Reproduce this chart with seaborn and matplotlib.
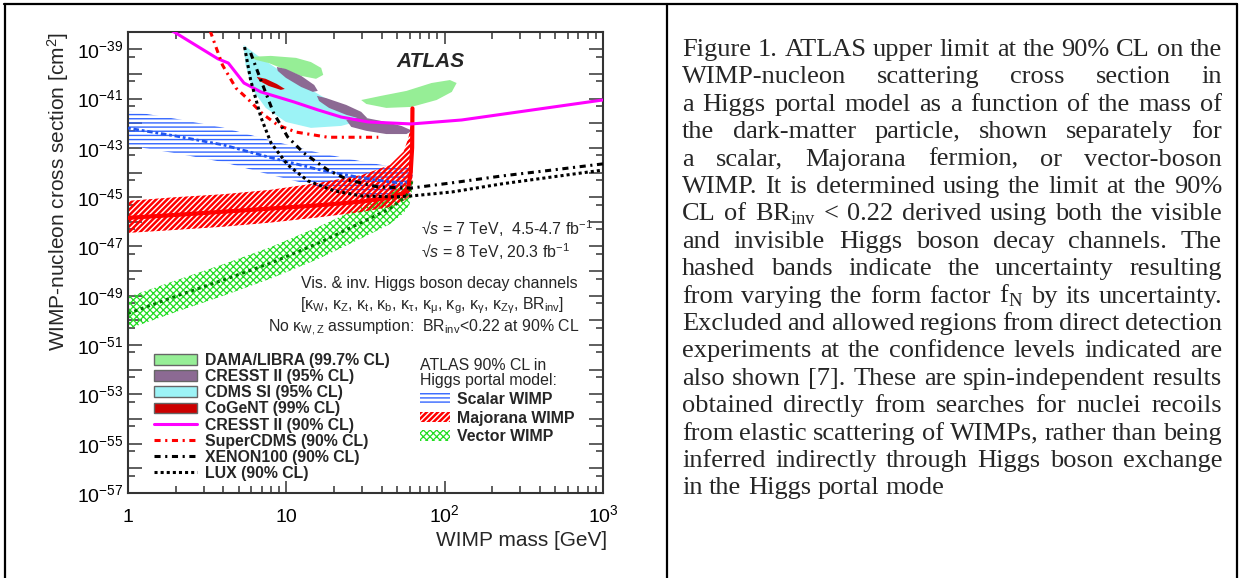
import matplotlib
matplotlib.use("Agg")
import matplotlib.pyplot as plt
import matplotlib.ticker as mticker
from matplotlib.lines import Line2D
from matplotlib.patches import Patch
import numpy as np
import pandas as pd
import seaborn as sns

# ── Direct-detection limits: mass [GeV], log10(sigma / cm^2) ──────────────────
CRESST90_MASS = [1.9, 3.7, 4.3, 5.4, 6.9, 11.2, 15.8, 22.2, 32.9, 61.7, 128, 993]
CRESST90_LOGXS = [-38.25, -39.39, -39.56, -40.37, -40.73, -41.14, -41.46, -41.75,
                  -41.95, -42.03, -41.87, -41.06]

SUPERCDMS_MASS = [3.3, 3.95, 4.8, 5.8, 7.1, 8.8, 11.5, 18.3, 38.1]
SUPERCDMS_LOGXS = [-38.25, -39.64, -40.57, -41.06, -41.63, -42.07, -42.36, -42.57, -42.57]

XENON_MASS = [5.95, 6.9, 8.3, 10.2, 12.9, 18.3, 24.6, 38.1, 61.7, 111, 230, 478, 1000]
XENON_LOGXS = [-39.15, -40.25, -41.58, -42.56, -43.21, -43.90, -44.30, -44.59, -44.63,
               -44.42, -44.14, -43.90, -43.65]

LUX_MASS = [5.45, 5.95, 6.9, 8.0, 10.2, 13.7, 20.0, 29.7, 48.2, 61.7, 111, 230, 478, 1000]
LUX_LOGXS = [-38.91, -40.25, -41.75, -42.80, -43.69, -44.34, -44.74, -44.95, -44.99,
             -44.95, -44.79, -44.46, -44.18, -43.90]

# ── Allowed / excluded regions (closed contours) ──────────────────────────────
CDMS_MASS = [5.37, 6.89, 10.7, 16.6, 23.9, 30.6, 22.2, 14.3, 9.93, 7.41, 6.13, 5.53]
CDMS_LOGXS = [-38.83, -39.35, -40.16, -40.89, -41.46, -41.87, -42.11, -42.19, -41.95,
              -41.38, -40.65, -39.64]

DAMA1_MASS = [5.95, 7.97, 11.5, 14.3, 16.6, 17.1, 15.4, 12.4, 9.93, 7.74, 6.40]
DAMA1_LOGXS = [-39.31, -39.27, -39.35, -39.52, -39.76, -40.04, -40.20, -40.08, -39.84,
               -39.56, -39.43]
DAMA2_MASS = [29.7, 39.8, 57.4, 82.6, 108, 119, 111, 88.9, 61.7, 42.8, 32.0]
DAMA2_LOGXS = [-41.06, -40.89, -40.69, -40.37, -40.25, -40.37, -40.73, -41.06, -41.34,
               -41.38, -41.22]

CRESST95A_MASS = [8.71, 9.93, 12.4, 15.0, 15.8, 14.7, 12.4, 9.93, 8.83]
CRESST95A_LOGXS = [-39.72, -39.80, -40.08, -40.45, -40.69, -40.73, -40.53, -40.16, -39.88]
CRESST95B_MASS = [15.6, 17.8, 23.9, 29.7, 32.4, 29.7, 23.9, 18.6, 16.1]
CRESST95B_LOGXS = [-40.89, -40.98, -41.26, -41.54, -41.79, -41.83, -41.66, -41.38, -41.10]
CRESST95C_MASS = [23.9, 29.7, 39.8, 53.3, 62.6, 57.4, 42.8, 32.0, 25.7]
CRESST95C_LOGXS = [-41.87, -41.75, -41.91, -42.11, -42.31, -42.44, -42.44, -42.31, -42.15]

COGENT_MASS = [6.50, 7.41, 8.71, 9.78, 9.23, 7.74, 6.79]
COGENT_LOGXS = [-40.12, -40.20, -40.41, -40.61, -40.65, -40.49, -40.29]

# ── ATLAS Higgs-portal limits with f_N uncertainty band ───────────────────────
SCALAR_MASS = [1, 2, 4, 8, 16, 30, 45, 55, 60, 62]
SCALAR_LOGXS = [-42.20, -42.52, -42.88, -43.40, -43.88, -44.22, -44.38, -44.44, -44.35, -44.0]
SCALAR_UP = [-41.5, -41.82, -42.18, -42.7, -43.2, -43.55, -43.75, -43.85, -43.75, -43.4]
SCALAR_DN = [-42.9, -43.22, -43.58, -44.1, -44.58, -44.9, -45.0, -45.0, -44.9, -44.6]

MAJORANA_MASS = [1, 2, 4, 8, 16, 30, 45, 55, 59, 61, 62.3, 62.6]
MAJORANA_LOGXS = [-45.84, -45.72, -45.59, -45.46, -45.33, -45.18, -45.01, -44.85, -44.55,
                  -44.0, -43.0, -41.4]
MAJORANA_UP = [-45.15, -45.0, -44.88, -44.7, -44.42, -44.1, -43.7, -43.15, -42.6, -42.1,
               -41.6, -41.38]
MAJORANA_DN = [-46.45, -46.33, -46.2, -46.03, -45.82, -45.6, -45.4, -45.15, -45.0, -44.85,
               -44.6, -44.4]

VECTOR_MASS = [1, 2, 4, 8, 16, 30, 45, 55, 60, 62]
VECTOR_LOGXS = [-49.72, -49.02, -48.36, -47.67, -46.86, -46.02, -45.47, -45.05, -44.75, -44.35]
VECTOR_UP = [-49.05, -48.38, -47.72, -47.02, -46.2, -45.38, -44.85, -44.5, -44.25, -44.05]
VECTOR_DN = [-50.35, -49.66, -49.0, -48.3, -47.5, -46.66, -46.1, -45.65, -45.3, -44.8]

X_TICKS = [1, 10, 100, 1000]
X_TICK_LABELS = ["1", "10", r"$\mathdefault{10^{2}}$", r"$\mathdefault{10^{3}}$"]
Y_DECADES = list(range(-57, -38))

CAPTION_LINES = [
    "Figure 1. ATLAS upper limit at the 90% CL on the",
    "WIMP-nucleon scattering cross section in",
    "a Higgs portal model as a function of the mass of",
    "the dark-matter particle, shown separately for",
    "a scalar, Majorana fermion, or vector-boson",
    "WIMP. It is determined using the limit at the 90%",
    r"CL of BR$_{\mathdefault{inv}}$ < 0.22 derived using both the visible",
    "and invisible Higgs boson decay channels. The",
    "hashed bands indicate the uncertainty resulting",
    r"from varying the form factor f$_{\mathdefault{N}}$ by its uncertainty.",
    "Excluded and allowed regions from direct detection",
    "experiments at the confidence levels indicated are",
    "also shown [7]. These are spin-independent results",
    "obtained directly from searches for nuclei recoils",
    "from elastic scattering of WIMPs, rather than being",
    "inferred indirectly through Higgs boson exchange",
    "in the Higgs portal mode",
]

# ── Style ─────────────────────────────────────────────────────────────────────
sns.set_theme(style="ticks")
plt.rcParams["font.family"] = ["Liberation Sans", "DejaVu Sans"]
plt.rcParams["mathtext.fontset"] = "custom"
plt.rcParams["mathtext.rm"] = "Liberation Sans"
plt.rcParams["mathtext.it"] = "Liberation Sans:italic"
plt.rcParams["mathtext.bf"] = "Liberation Sans:bold"
plt.rcParams["hatch.linewidth"] = 1.2

W, H = 1240, 578
AX_COLOR = "#333333"
DAMA_C, CRESST_C, CDMS_C, COGENT_C = "#96ee96", "#8c6a93", "#9cf3f6", "#cc0000"
SCALAR_C, MAJ_C, VEC_C = "#3366ff", "#ff0000", "#22dd22"
HATCH_LW = {"----": 1.0, "//////": 1.8, "xxxxx": 0.9}

fig = plt.figure(figsize=(W / 100, H / 100), dpi=100)
ax = fig.add_axes([128 / W, 85 / H, 475 / W, 461 / H])
ax.set_xscale("log")
ax.set_yscale("log")


def curve(mass, logxs, **kw):
    df = pd.DataFrame({"mass": mass, "xs": 10.0 ** np.asarray(logxs)})
    sns.lineplot(data=df, x="mass", y="xs", sort=False, estimator=None,
                 legend=False, ax=ax, **kw)


def region(mass, logxs, color, z=1):
    ax.fill(mass, 10.0 ** np.asarray(logxs), facecolor=color, edgecolor="none", zorder=z)


def set_hatch_lw(artist, hatch):
    if hasattr(artist, "set_hatch_linewidth"):
        artist.set_hatch_linewidth(HATCH_LW[hatch])


def band(mass, lo, hi, color, hatch, z):
    with plt.rc_context({"hatch.linewidth": HATCH_LW[hatch]}):
        coll = ax.fill_between(mass, 10.0 ** np.asarray(lo), 10.0 ** np.asarray(hi),
                               facecolor="none", edgecolor=color, hatch=hatch,
                               linewidth=0, zorder=z)
    set_hatch_lw(coll, hatch)


# regions
region(CDMS_MASS, CDMS_LOGXS, CDMS_C, 1)
region(DAMA1_MASS, DAMA1_LOGXS, DAMA_C, 1.1)
region(DAMA2_MASS, DAMA2_LOGXS, DAMA_C, 1.1)
region(CRESST95A_MASS, CRESST95A_LOGXS, CRESST_C, 1.2)
region(CRESST95B_MASS, CRESST95B_LOGXS, CRESST_C, 1.2)
region(CRESST95C_MASS, CRESST95C_LOGXS, CRESST_C, 1.2)
region(COGENT_MASS, COGENT_LOGXS, COGENT_C, 1.3)

# ATLAS bands
band(SCALAR_MASS, SCALAR_DN, SCALAR_UP, SCALAR_C, "----", 2)
band(VECTOR_MASS, VECTOR_DN, VECTOR_UP, VEC_C, "xxxxx", 2.1)
band(MAJORANA_MASS, MAJORANA_DN, MAJORANA_UP, MAJ_C, "//////", 2.2)
curve(SCALAR_MASS, SCALAR_LOGXS, color="#2255ee", linewidth=2, linestyle=(0, (1, 1, 2, 1)), zorder=3)
curve(VECTOR_MASS, VECTOR_LOGXS, color="#007700", linewidth=2.2, linestyle=(0, (1, 1.2)), zorder=3)
curve(MAJORANA_MASS, MAJORANA_LOGXS, color=MAJ_C, linewidth=3, zorder=3.1)

# limit curves
curve(CRESST90_MASS, CRESST90_LOGXS, color="#ff00ff", linewidth=2.2, zorder=4)
curve(SUPERCDMS_MASS, SUPERCDMS_LOGXS, color="#ff0000", linewidth=2.2,
      linestyle=(0, (2, 1.5, 0.7, 1.5)), zorder=4)
curve(XENON_MASS, XENON_LOGXS, color="black", linewidth=2.2,
      linestyle=(0, (2, 1.5, 0.7, 1.5)), zorder=4)
curve(LUX_MASS, LUX_LOGXS, color="black", linewidth=2.2, linestyle=(0, (1, 1)), zorder=4)

# ── Axes ──────────────────────────────────────────────────────────────────────
ax.set_xlim(1, 1000)
ax.set_ylim(1e-57, 5e-39)
ax.xaxis.set_major_locator(mticker.FixedLocator(X_TICKS))
ax.xaxis.set_major_formatter(mticker.FixedFormatter(X_TICK_LABELS))
ax.xaxis.set_minor_locator(mticker.LogLocator(base=10, subs=np.arange(2, 10), numticks=20))
ax.xaxis.set_minor_formatter(mticker.NullFormatter())
ax.yaxis.set_major_locator(mticker.FixedLocator([10.0 ** e for e in Y_DECADES]))
ax.yaxis.set_major_formatter(mticker.FuncFormatter(
    lambda v, p: rf"$\mathdefault{{10^{{{int(round(np.log10(v)))}}}}}$"
    if int(round(np.log10(v))) % 2 else ""))
ax.yaxis.set_minor_locator(mticker.FixedLocator([5 * 10.0 ** e for e in Y_DECADES[:-1]]))
ax.yaxis.set_minor_formatter(mticker.NullFormatter())

ax.tick_params(which="both", direction="in", top=True, right=True, color=AX_COLOR,
               labelcolor="black", width=1.1)
ax.tick_params(axis="y", which="major", length=10, pad=3.5, labelsize=14)
ax.tick_params(axis="y", which="minor", length=5)
ax.tick_params(axis="x", which="major", length=8.5, pad=21, labelsize=14)
ax.tick_params(axis="x", which="minor", length=4.8)
plt.setp(ax.get_xticklabels(), va="baseline")
for sp in ax.spines.values():
    sp.set_color(AX_COLOR)
    sp.set_linewidth(1.5)

ax.set_ylabel(r"WIMP-nucleon cross section [cm$^{\mathdefault{2}}$]", fontsize=15, loc="top")
ax.yaxis.set_label_coords(-0.12, 1.0)
ax.set_xlabel("WIMP mass [GeV]", fontsize=15, loc="right")
ax.xaxis.set_label_coords(1.008, -0.082)

# ── Annotations ───────────────────────────────────────────────────────────────
ax.text(0.566, 0.935, "ATLAS", transform=ax.transAxes, fontsize=15, weight="bold",
        style="italic", va="center")
ax.text(0.617, 0.573, r"√$\mathit{s}$ = 7 TeV,  4.5-4.7 fb$^{\mathdefault{-1}}$",
        transform=ax.transAxes, fontsize=11.4, va="center")
ax.text(0.617, 0.523, r"√$\mathit{s}$ = 8 TeV, 20.3 fb$^{\mathdefault{-1}}$",
        transform=ax.transAxes, fontsize=11.4, va="center")
ax.text(0.947, 0.4555, "Vis. & inv. Higgs boson decay channels", transform=ax.transAxes,
        fontsize=11.4, va="center", ha="right")
ax.text(0.918, 0.4056,
        r"[κ$_{\mathdefault{W}}$, κ$_{\mathdefault{Z}}$, κ$_{\mathdefault{t}}$, "
        r"κ$_{\mathdefault{b}}$, κ$_{\mathdefault{τ}}$, κ$_{\mathdefault{μ}}$, "
        r"κ$_{\mathdefault{g}}$, κ$_{\mathdefault{γ}}$, κ$_{\mathdefault{Zγ}}$, "
        r"BR$_{\mathdefault{inv}}$]",
        transform=ax.transAxes, fontsize=11.4, va="center", ha="right")
ax.text(0.949, 0.358,
        r"No κ$_{\mathdefault{W,Z}}$ assumption:  BR$_{\mathdefault{inv}}$<0.22 at 90% CL",
        transform=ax.transAxes, fontsize=11.4, va="center", ha="right")

# ── Legends ───────────────────────────────────────────────────────────────────
left_handles = [
    Patch(facecolor=DAMA_C, edgecolor="#666666", linewidth=1),
    Patch(facecolor=CRESST_C, edgecolor="#666666", linewidth=1),
    Patch(facecolor=CDMS_C, edgecolor="#666666", linewidth=1),
    Patch(facecolor=COGENT_C, edgecolor="#666666", linewidth=1),
    Line2D([], [], color="#ff00ff", linewidth=2.2),
    Line2D([], [], color="#ff0000", linewidth=2.2, linestyle=(0, (2, 1.5, 0.7, 1.5))),
    Line2D([], [], color="black", linewidth=2.2, linestyle=(0, (2, 1.5, 0.7, 1.5))),
    Line2D([], [], color="black", linewidth=2.2, linestyle=(0, (1, 1))),
]
left_labels = ["DAMA/LIBRA (99.7% CL)", "CRESST II (95% CL)", "CDMS SI (95% CL)",
               "CoGeNT (99% CL)", "CRESST II (90% CL)", "SuperCDMS (90% CL)",
               "XENON100 (90% CL)", "LUX (90% CL)"]
leg1 = ax.legend(left_handles, left_labels, loc="upper left", bbox_to_anchor=(0.055, 0.3035),
                 frameon=False, borderpad=0, borderaxespad=0, labelspacing=0.07,
                 handlelength=2.7, handleheight=0.65, handletextpad=0.5,
                 prop={"weight": "bold", "size": 11.4})
ax.add_artist(leg1)

right_handles = [
    Patch(facecolor="white", edgecolor=SCALAR_C, hatch="----", linewidth=0),
    Patch(facecolor="white", edgecolor=MAJ_C, hatch="//////", linewidth=0),
    Patch(facecolor="white", edgecolor=VEC_C, hatch="xxxxx", linewidth=0),
]
leg2 = ax.legend(right_handles, ["Scalar WIMP", "Majorana WIMP", "Vector WIMP"],
                 title="ATLAS 90% CL in\nHiggs portal model:", alignment="left",
                 loc="upper left", bbox_to_anchor=(0.615, 0.292), frameon=False,
                 borderpad=0, borderaxespad=0, labelspacing=0.23, handlelength=1.9,
                 handleheight=0.65, handletextpad=0.45,
                 prop={"weight": "bold", "size": 11.4}, title_fontsize=11.4)
leg2.get_title().set_linespacing(1.0)
for h, hatch in zip(leg2.get_patches(), ["----", "//////", "xxxxx"]):
    set_hatch_lw(h, hatch)

# ── Table borders ─────────────────────────────────────────────────────────────
for (x0, y0, x1, y1) in [(4, 3.5, 1237, 3.5), (5, 3.5, 5, 578), (666.5, 3.5, 666.5, 578),
                         (1237, 3.5, 1237, 578)]:
    fig.add_artist(Line2D([x0 / W, x1 / W], [1 - y0 / H, 1 - y1 / H],
                          transform=fig.transFigure, color="black", linewidth=1.6))

# ── Caption (justified) ───────────────────────────────────────────────────────
serif = ["Liberation Serif", "DejaVu Serif"]
renderer = fig.canvas.get_renderer()
x_left, x_right = 682, 1222
for i, line in enumerate(CAPTION_LINES):
    y = 1 - (56 + 27.4 * i) / H
    words = line.split(" ")
    texts = [fig.text(0, y, w, fontsize=19, family=serif, va="baseline") for w in words]
    widths = [t.get_window_extent(renderer).width for t in texts]
    if i == len(CAPTION_LINES) - 1 or len(words) == 1:
        gap = 0.25 * 19 * 100 / 72
    else:
        gap = (x_right - x_left - sum(widths)) / (len(words) - 1)
    x = x_left
    for t, w in zip(texts, widths):
        t.set_x(x / W)
        x += w + gap

fig.savefig("out.png", dpi=100)
